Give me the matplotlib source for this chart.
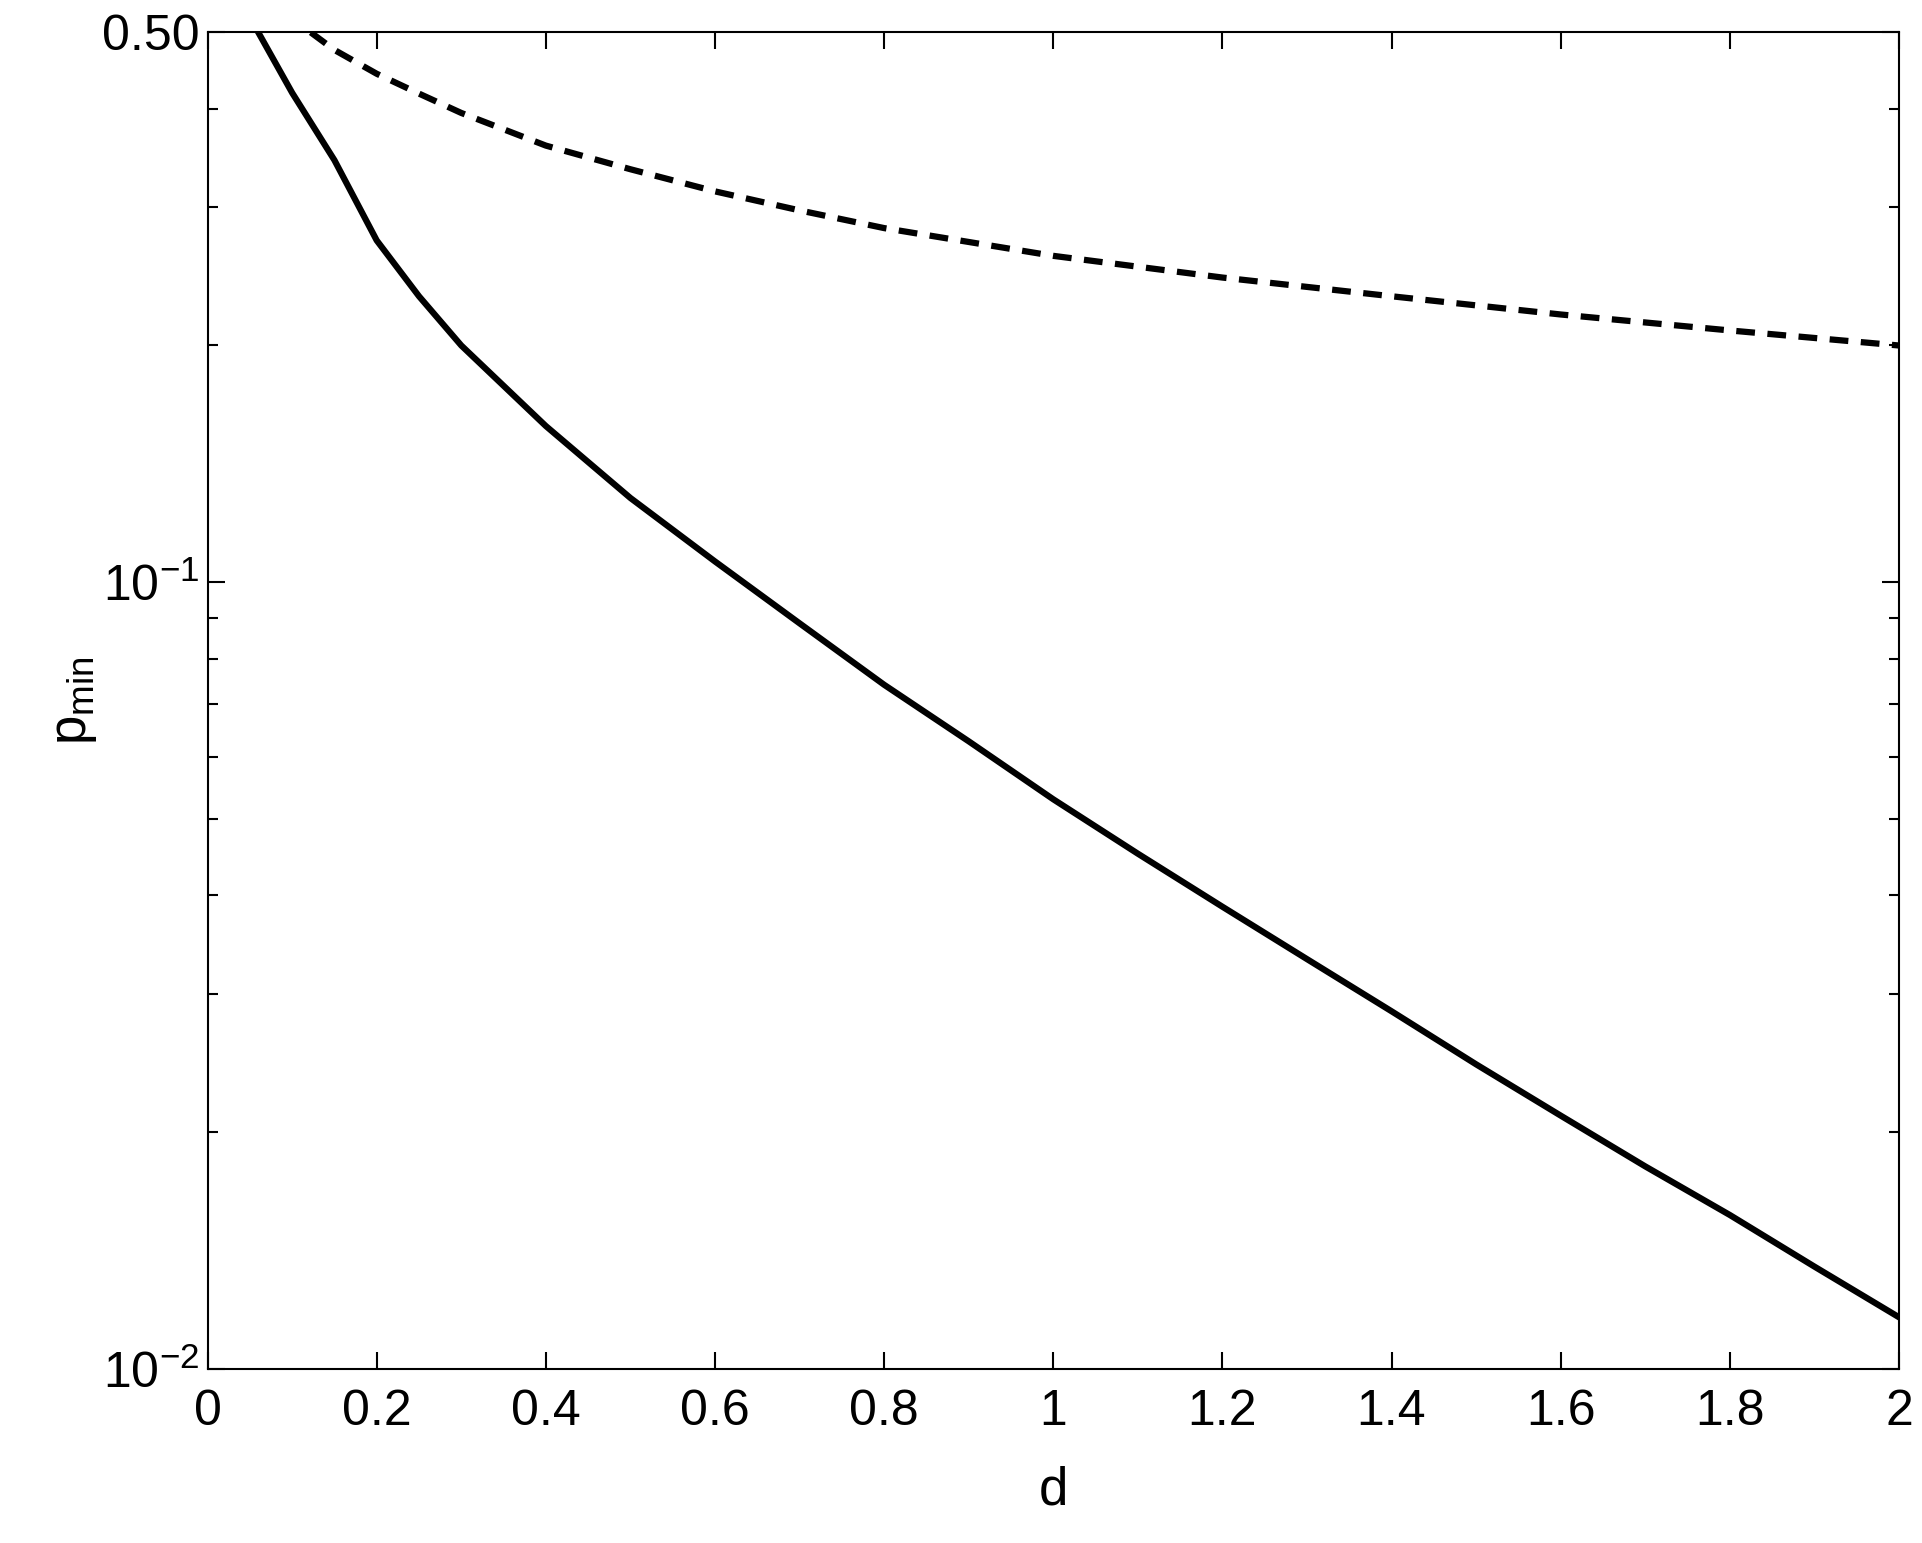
import matplotlib.pyplot as plt
from matplotlib.ticker import FixedLocator, NullFormatter

plt.rcParams['font.family'] = ['Liberation Sans', 'DejaVu Sans']

# values
d_solid = [0.06, 0.1, 0.15, 0.2, 0.25, 0.3, 0.4, 0.5, 0.6, 0.7, 0.8, 0.9, 1.0, 1.1,
           1.2, 1.3, 1.4, 1.5, 1.6, 1.7, 1.8, 1.9, 2.0]
p_solid = [0.5, 0.419, 0.344, 0.272, 0.231, 0.200, 0.158, 0.128, 0.1063, 0.0887,
           0.0741, 0.0628, 0.0530, 0.0452, 0.0387, 0.0332, 0.0285, 0.0244, 0.0210,
           0.0181, 0.0157, 0.0135, 0.01164]
d_dash = [0.122, 0.15, 0.2, 0.25, 0.3, 0.4, 0.5, 0.6, 0.7, 0.8, 1.0, 1.2, 1.4, 1.6, 1.8, 2.0]
p_dash = [0.5, 0.475, 0.443, 0.418, 0.395, 0.359, 0.335, 0.314, 0.297, 0.282, 0.260,
          0.244, 0.231, 0.219, 0.209, 0.200]

fig = plt.figure(figsize=(19.22, 15.43), dpi=100)
ax = fig.add_axes([0.108, 0.1127, 0.880, 0.8663])
ax.plot(d_solid, p_solid, color='black', lw=4.5)
ax.plot(d_dash, p_dash, color='black', lw=4.5, ls=(0, (3, 2)))

ax.set_yscale('log')
ax.set_xlim(0, 2)
ax.set_ylim(0.01, 0.5)
ax.set_xticks([0, 0.2, 0.4, 0.6, 0.8, 1, 1.2, 1.4, 1.6, 1.8, 2])
ax.set_xticklabels(['0', '0.2', '0.4', '0.6', '0.8', '1', '1.2', '1.4', '1.6', '1.8', '2'])
ax.yaxis.set_major_locator(FixedLocator([0.01, 0.1, 0.5]))
ax.set_yticklabels(['$\\mathregular{10^{-2}}$', '$\\mathregular{10^{-1}}$', '0.50'])
minors = [k * 0.01 for k in range(2, 10)] + [k * 0.1 for k in range(2, 5)]
ax.yaxis.set_minor_locator(FixedLocator(minors))
ax.yaxis.set_minor_formatter(NullFormatter())
ax.tick_params(which='both', direction='in', top=True, right=True, labelsize=36, width=1.5)
ax.tick_params(axis='x', pad=14)
ax.tick_params(axis='y', pad=6)
ax.tick_params(which='major', length=12)
ax.tick_params(which='minor', length=7)
for s in ax.spines.values():
    s.set_linewidth(1.5)
ax.set_xlabel('d', fontsize=38, labelpad=22)
ax.set_ylabel('$\\mathregular{p_{min}}$', fontsize=38, labelpad=2)
fig.savefig('out.png')
